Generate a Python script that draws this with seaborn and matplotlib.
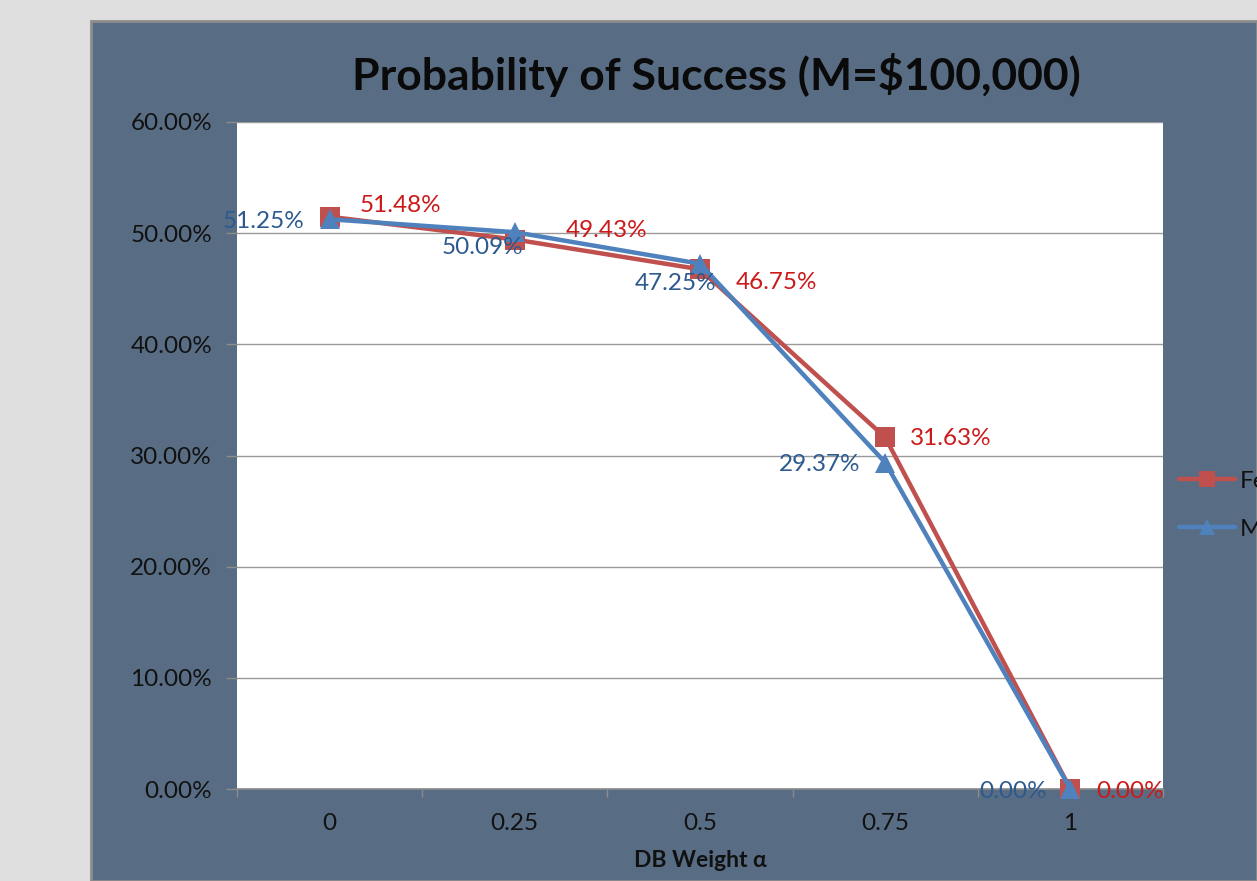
import matplotlib
matplotlib.use("Agg")
import matplotlib.pyplot as plt
import matplotlib.patches as mpatches
from matplotlib.ticker import FixedLocator
import seaborn as sns
import pandas as pd

# Data
weights = ["0", "0.25", "0.5", "0.75", "1"]
female = [51.48, 49.43, 46.75, 31.63, 0.00]
male = [51.25, 50.09, 47.25, 29.37, 0.00]
series_names = ["Female", "Male"]
y_ticks = [0, 10, 20, 30, 40, 50, 60]

df = pd.DataFrame({
    "weight": weights * 2,
    "prob": female + male,
    "sex": [series_names[0]] * len(weights) + [series_names[1]] * len(weights),
})

sns.set_theme(style="white")
plt.rcParams["font.family"] = ["Lato", "DejaVu Sans"]

W, H = 1257, 881
fig = plt.figure(figsize=(W / 100, H / 100), dpi=100)
fig.patch.set_facecolor("#dedede")

# Chart panel behind the plot area
panel = mpatches.Rectangle((91 / W, 0), 1 - 91 / W, 1 - 21 / H, transform=fig.transFigure,
                           facecolor="#586d84", edgecolor="#8c8c8c", linewidth=2, zorder=-10)
fig.patches.append(panel)

ax = fig.add_axes([237 / W, (H - 789) / H, 926 / W, 667 / H])
ax.set_zorder(1)
ax.set_facecolor("white")

red = "#c0504d"
blue = "#4f81bd"
palette = {series_names[0]: red, series_names[1]: blue}
markers = {series_names[0]: "s", series_names[1]: "^"}

sns.lineplot(data=df, x="weight", y="prob", hue="sex", style="sex", palette=palette,
             markers=markers, dashes=False, markersize=14, linewidth=3.2,
             markeredgewidth=0, sort=False, ax=ax, legend=False, clip_on=False, zorder=3)

ax.set_xlim(-0.5, len(weights) - 0.5)
ax.set_ylim(0, 60)
ax.yaxis.set_major_locator(FixedLocator(y_ticks))
ax.set_yticklabels([f"{t:.2f}%" for t in y_ticks])
ax.grid(axis="y", color="#9a9a9a", linewidth=1)
ax.set_axisbelow(True)

for s in ["left", "right", "top"]:
    ax.spines[s].set_visible(False)
ax.spines["bottom"].set_color("#8c8c8c")
ax.spines["bottom"].set_linewidth(1.2)

fs = 17.5
ax.xaxis.set_minor_locator(FixedLocator([i - 0.5 for i in range(len(weights) + 1)]))
ax.tick_params(axis="x", which="major", length=0, pad=17, labelsize=fs, colors="#111111")
ax.tick_params(axis="x", which="minor", length=6, width=1, color="#8c8c8c", bottom=True)
ax.tick_params(axis="y", which="major", length=8, width=1, color="#8c8c8c", left=True,
               labelsize=fs, labelcolor="#111111", pad=10)
for lab in ax.get_xticklabels():
    lab.set_color("#111111")

ax.set_xlabel("DB Weight α", fontsize=16.5, fontweight="bold", color="#111111", labelpad=12)
ax.set_ylabel("")

# Data labels
red_off = [(30, 11), (51, 9), (36, -13), (25, -1), (26, -2)]
blue_off = [(-25, -2), (8, -15), (16, -20), (-25, -2), (-24, -2)]
for i, v in enumerate(female):
    ax.annotate(f"{v:.2f}%", (i, v), xytext=red_off[i], textcoords="offset pixels",
                ha="left", va="center", fontsize=fs, color="#cc1a1a",
                annotation_clip=False, zorder=5)
for i, v in enumerate(male):
    ax.annotate(f"{v:.2f}%", (i, v), xytext=blue_off[i], textcoords="offset pixels",
                ha="right", va="center", fontsize=fs, color="#2d5a8e",
                annotation_clip=False, zorder=5)

fig.suptitle("Probability of Success (M=$100,000)", x=716 / W, y=1 - 75 / H, va="center",
             fontsize=32, fontweight="bold", color="#0a0a0a")

# Legend
handles = [plt.Line2D([], [], color=red, marker="s", markersize=12, linewidth=3.2, markeredgewidth=0),
           plt.Line2D([], [], color=blue, marker="^", markersize=12, linewidth=3.2, markeredgewidth=0)]
fig.legend(handles, series_names, loc="upper left", bbox_to_anchor=(1157 / W, 1 - 449 / H),
           frameon=False, fontsize=fs, handlelength=2.3, handletextpad=0.2,
           labelspacing=1.1, labelcolor="#111111")

fig.savefig("out.png", dpi=100)
